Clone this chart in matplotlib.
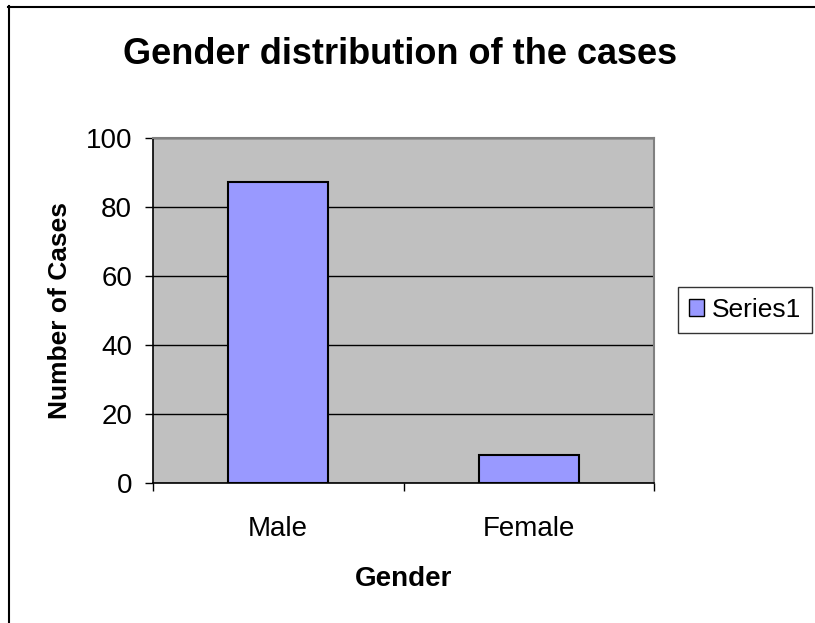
import matplotlib
matplotlib.use("Agg")
import matplotlib.pyplot as plt
from matplotlib.patches import Patch
import numpy as np

plt.rcParams['font.family'] = ['Liberation Sans', 'DejaVu Sans']

categories = ['Male', 'Female']
cases = [87, 8]
y_ticks = [0, 20, 40, 60, 80, 100]

W, H = 815, 623
fig = plt.figure(figsize=(W / 100, H / 100), dpi=100)

# outer frame (only left/top edges are visible inside the canvas)
fig.add_artist(plt.Line2D([8.5 / W, 8.5 / W], [0, 1 - 6 / H], color='black', lw=1.5,
                          transform=fig.transFigure))
fig.add_artist(plt.Line2D([8 / W, 1], [1 - 6.5 / H, 1 - 6.5 / H], color='black', lw=1.5,
                          transform=fig.transFigure))

left, right, top, bottom = 153, 654, 137.5, 483
ax = fig.add_axes([left / W, 1 - bottom / H, (right - left) / W, (bottom - top) / H])
ax.set_facecolor('#C0C0C0')

x = np.arange(len(categories))
ax.bar(x, cases, width=0.4, color='#9999FF', edgecolor='black', linewidth=1.5, zorder=3)

ax.set_xlim(-0.5, len(categories) - 0.5)
ax.set_ylim(0, 100)
ax.set_yticks(y_ticks)
ax.yaxis.grid(True, color='black', linewidth=1, zorder=1)
ax.set_axisbelow(True)

ax.set_xticks(x)
ax.set_xticklabels(categories)
ax.tick_params(axis='x', length=0, pad=24, labelsize=20)
ax.set_xticks([-0.5, 0.5, 1.5], minor=True)
ax.tick_params(axis='x', which='minor', length=6, width=1, direction='out')
ax.tick_params(axis='y', length=6, width=1, direction='out', labelsize=20, pad=9)

for s in ['left', 'bottom']:
    ax.spines[s].set_color('black')
    ax.spines[s].set_linewidth(1.2)
for s in ['top', 'right']:
    ax.spines[s].set_color('#808080')
    ax.spines[s].set_linewidth(1.5)

ax.set_xlabel('Gender', fontsize=20, fontweight='bold', labelpad=17)
ax.set_ylabel('Number of Cases', fontsize=19, fontweight='bold', labelpad=10)

fig.text(400 / W, 1 - 55 / H, 'Gender distribution of the cases', fontsize=26,
         fontweight='bold', ha='center', va='center')

leg = fig.legend(handles=[Patch(facecolor='#9999FF', edgecolor='black', label='Series1')],
                 loc='center left', bbox_to_anchor=(678 / W, 1 - 310 / H), fontsize=19,
                 frameon=True, fancybox=False, edgecolor='black', handlelength=0.6,
                 handleheight=0.6, handletextpad=0.3, borderpad=0.4, borderaxespad=0)
leg.get_frame().set_linewidth(1)

fig.savefig('out.png', dpi=100)
